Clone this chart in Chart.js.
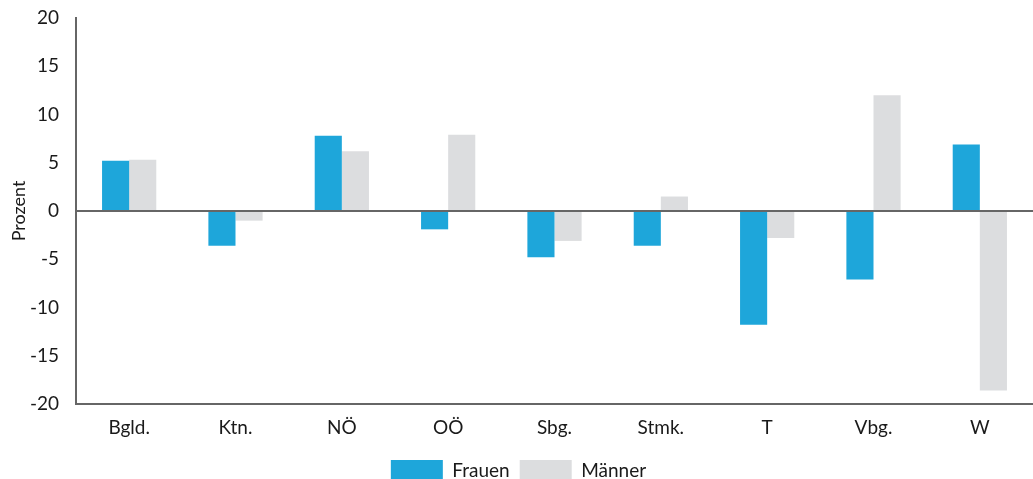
<!DOCTYPE html>
<html>
<head>
<meta charset="utf-8">
<script src="https://cdn.jsdelivr.net/npm/chart.js@4"></script>
<style>
  html, body { margin: 0; padding: 0; background: #fff; }
  #wrap { width: 1033px; height: 479px; }
</style>
</head>
<body>
<div id="wrap"><canvas id="graph"></canvas></div>
<script>
//Bundeslaender
var regions = ['Bgld.', 'Ktn.', 'NÖ', 'OÖ', 'Sbg.', 'Stmk.', 'T', 'Vbg.', 'W'];
//Veraenderung in Prozent
var frauen = [5.2, -3.6, 7.8, -1.9, -4.8, -3.6, -11.8, -7.1, 6.9];
var maenner = [5.3, -1.0, 6.2, 7.9, -3.1, 1.5, -2.8, 12.0, -18.6];
//y axis ticks
var y_min = -20;
var y_max = 20;
var y_step = 5;

var font_name = "Lato, 'Open Sans', sans-serif";
var text_color = '#1a1a1a';

const ctx = document.getElementById('graph');

new Chart(ctx, {
    type: 'bar',
    data: {
        labels: regions,
        datasets: [{
            label: 'Frauen',
            data: frauen,
            backgroundColor: '#1ea6da',
            categoryPercentage: 0.51,
            barPercentage: 1.0
        }, {
            label: 'Männer',
            data: maenner,
            backgroundColor: '#dcdddf',
            categoryPercentage: 0.51,
            barPercentage: 1.0
        }]
    },
    options: {
        responsive: true,
        maintainAspectRatio: false,
        animation: false,
        layout: {
            padding: { top: 18, right: 0, left: 4, bottom: -13 }
        },
        plugins: {
            tooltip: { enabled: false },
            legend: {
                position: 'bottom',
                labels: {
                    boxWidth: 52,
                    boxHeight: 22,
                    padding: 10,
                    color: text_color,
                    font: { family: font_name, size: 19 }
                }
            }
        },
        scales: {
            x: {
                //fixed height so the bottom line sits at -20 like the original
                afterFit: function (s) { s.height = 46; },
                grid: { display: false, drawTicks: false },
                border: { display: true, color: '#666', width: 2 },
                ticks: {
                    color: text_color,
                    padding: 7,
                    font: { family: font_name, size: 19, lineHeight: 1.75 }
                }
            },
            y: {
                min: y_min,
                max: y_max,
                //fixed width so axis line sits where the original has it
                afterFit: function (s) {
                    s.width = 72;
                    s.paddingTop = 0;
                    s.paddingBottom = 0;
                },
                title: {
                    display: true,
                    text: 'Prozent',
                    color: text_color,
                    padding: { top: 4, bottom: 0 },
                    font: { family: font_name, size: 18 }
                },
                grid: {
                    drawTicks: false,
                    lineWidth: 2,
                    color: function (c) {
                        return c.tick && c.tick.value === 0 ? '#666' : 'rgba(0,0,0,0)';
                    }
                },
                border: { display: true, color: '#666', width: 2 },
                ticks: {
                    stepSize: y_step,
                    color: text_color,
                    padding: 17,
                    font: { family: font_name, size: 19 }
                }
            }
        }
    }
});
</script>
</body>
</html>
